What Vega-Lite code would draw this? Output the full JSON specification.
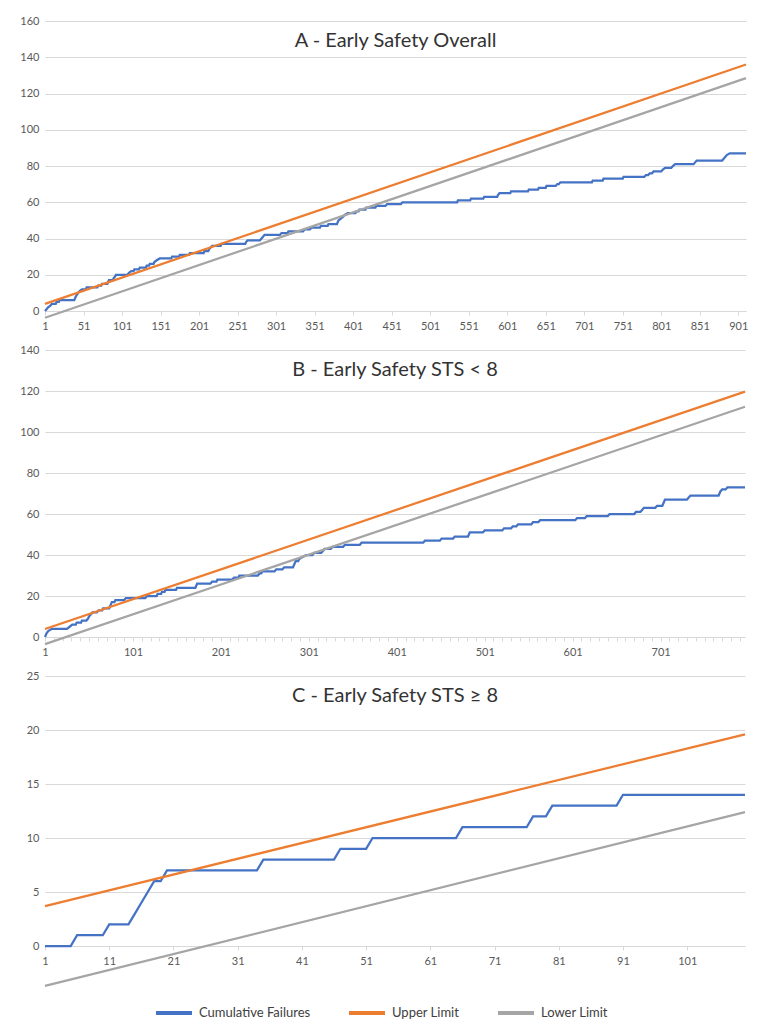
{
  "$schema": "https://vega.github.io/schema/vega-lite/v6.json",
  "background": "white",
  "padding": {"left": 19, "top": 15, "right": 10, "bottom": 5},
  "bounds": "flush",
  "spacing": 39,
  "config": {
    "view": {"stroke": null},
    "font": "Lato",
    "axis": {"labelFont": "Lato", "labelFontSize": 11, "labelColor": "#595959", "gridColor": "#D9D9D9", "domainColor": "#D9D9D9", "tickColor": "#D9D9D9", "title": null},
    "title": {"font": "Lato", "fontSize": 20, "fontWeight": "normal", "color": "#333333", "anchor": "middle", "frame": "group", "offset": -36},
    "legend": {"labelFont": "Lato", "labelFontSize": 13, "labelColor": "#404040", "symbolType": "stroke", "symbolStrokeWidth": 4, "symbolSize": 1296, "labelOffset": 5, "columnPadding": 30, "title": null}
  },
  "datasets": {
    "A": [
      {"series": "Cumulative Failures", "n": 1, "value": 0}, {"series": "Cumulative Failures", "n": 3, "value": 1}, {"series": "Cumulative Failures", "n": 5, "value": 2}, {"series": "Cumulative Failures", "n": 8, "value": 3}, {"series": "Cumulative Failures", "n": 10, "value": 4}, {"series": "Cumulative Failures", "n": 15, "value": 4}, {"series": "Cumulative Failures", "n": 16, "value": 5}, {"series": "Cumulative Failures", "n": 19, "value": 5}, {"series": "Cumulative Failures", "n": 20, "value": 6}, {"series": "Cumulative Failures", "n": 39, "value": 6}, {"series": "Cumulative Failures", "n": 41, "value": 8}, {"series": "Cumulative Failures", "n": 44, "value": 10}, {"series": "Cumulative Failures", "n": 46, "value": 11}, {"series": "Cumulative Failures", "n": 49, "value": 12}, {"series": "Cumulative Failures", "n": 54, "value": 12}, {"series": "Cumulative Failures", "n": 55, "value": 13}, {"series": "Cumulative Failures", "n": 69, "value": 13}, {"series": "Cumulative Failures", "n": 70, "value": 14}, {"series": "Cumulative Failures", "n": 74, "value": 14}, {"series": "Cumulative Failures", "n": 75, "value": 15}, {"series": "Cumulative Failures", "n": 82, "value": 15}, {"series": "Cumulative Failures", "n": 83, "value": 16}, {"series": "Cumulative Failures", "n": 84, "value": 17}, {"series": "Cumulative Failures", "n": 89, "value": 17}, {"series": "Cumulative Failures", "n": 90, "value": 18}, {"series": "Cumulative Failures", "n": 92, "value": 19}, {"series": "Cumulative Failures", "n": 93, "value": 20}, {"series": "Cumulative Failures", "n": 108, "value": 20}, {"series": "Cumulative Failures", "n": 110, "value": 21}, {"series": "Cumulative Failures", "n": 113, "value": 22}, {"series": "Cumulative Failures", "n": 116, "value": 22}, {"series": "Cumulative Failures", "n": 117, "value": 23}, {"series": "Cumulative Failures", "n": 123, "value": 23}, {"series": "Cumulative Failures", "n": 124, "value": 24}, {"series": "Cumulative Failures", "n": 132, "value": 24}, {"series": "Cumulative Failures", "n": 133, "value": 25}, {"series": "Cumulative Failures", "n": 136, "value": 25}, {"series": "Cumulative Failures", "n": 137, "value": 26}, {"series": "Cumulative Failures", "n": 142, "value": 26}, {"series": "Cumulative Failures", "n": 143, "value": 27}, {"series": "Cumulative Failures", "n": 146, "value": 28}, {"series": "Cumulative Failures", "n": 150, "value": 29}, {"series": "Cumulative Failures", "n": 165, "value": 29}, {"series": "Cumulative Failures", "n": 166, "value": 30}, {"series": "Cumulative Failures", "n": 175, "value": 30}, {"series": "Cumulative Failures", "n": 176, "value": 31}, {"series": "Cumulative Failures", "n": 188, "value": 31}, {"series": "Cumulative Failures", "n": 189, "value": 32}, {"series": "Cumulative Failures", "n": 207, "value": 32}, {"series": "Cumulative Failures", "n": 208, "value": 33}, {"series": "Cumulative Failures", "n": 213, "value": 33}, {"series": "Cumulative Failures", "n": 214, "value": 34}, {"series": "Cumulative Failures", "n": 216, "value": 35}, {"series": "Cumulative Failures", "n": 218, "value": 36}, {"series": "Cumulative Failures", "n": 229, "value": 36}, {"series": "Cumulative Failures", "n": 230, "value": 37}, {"series": "Cumulative Failures", "n": 261, "value": 37}, {"series": "Cumulative Failures", "n": 262, "value": 38}, {"series": "Cumulative Failures", "n": 264, "value": 39}, {"series": "Cumulative Failures", "n": 280, "value": 39}, {"series": "Cumulative Failures", "n": 282, "value": 40}, {"series": "Cumulative Failures", "n": 284, "value": 41}, {"series": "Cumulative Failures", "n": 286, "value": 42}, {"series": "Cumulative Failures", "n": 306, "value": 42}, {"series": "Cumulative Failures", "n": 308, "value": 43}, {"series": "Cumulative Failures", "n": 316, "value": 43}, {"series": "Cumulative Failures", "n": 317, "value": 44}, {"series": "Cumulative Failures", "n": 336, "value": 44}, {"series": "Cumulative Failures", "n": 338, "value": 45}, {"series": "Cumulative Failures", "n": 345, "value": 45}, {"series": "Cumulative Failures", "n": 347, "value": 46}, {"series": "Cumulative Failures", "n": 358, "value": 46}, {"series": "Cumulative Failures", "n": 359, "value": 47}, {"series": "Cumulative Failures", "n": 368, "value": 47}, {"series": "Cumulative Failures", "n": 369, "value": 48}, {"series": "Cumulative Failures", "n": 380, "value": 48}, {"series": "Cumulative Failures", "n": 382, "value": 50}, {"series": "Cumulative Failures", "n": 385, "value": 51}, {"series": "Cumulative Failures", "n": 388, "value": 52}, {"series": "Cumulative Failures", "n": 390, "value": 53}, {"series": "Cumulative Failures", "n": 394, "value": 54}, {"series": "Cumulative Failures", "n": 404, "value": 54}, {"series": "Cumulative Failures", "n": 405, "value": 55}, {"series": "Cumulative Failures", "n": 408, "value": 55}, {"series": "Cumulative Failures", "n": 409, "value": 56}, {"series": "Cumulative Failures", "n": 417, "value": 56}, {"series": "Cumulative Failures", "n": 418, "value": 57}, {"series": "Cumulative Failures", "n": 430, "value": 57}, {"series": "Cumulative Failures", "n": 431, "value": 58}, {"series": "Cumulative Failures", "n": 443, "value": 58}, {"series": "Cumulative Failures", "n": 445, "value": 59}, {"series": "Cumulative Failures", "n": 463, "value": 59}, {"series": "Cumulative Failures", "n": 465, "value": 60}, {"series": "Cumulative Failures", "n": 536, "value": 60}, {"series": "Cumulative Failures", "n": 537, "value": 61}, {"series": "Cumulative Failures", "n": 553, "value": 61}, {"series": "Cumulative Failures", "n": 554, "value": 62}, {"series": "Cumulative Failures", "n": 570, "value": 62}, {"series": "Cumulative Failures", "n": 571, "value": 63}, {"series": "Cumulative Failures", "n": 588, "value": 63}, {"series": "Cumulative Failures", "n": 589, "value": 64}, {"series": "Cumulative Failures", "n": 591, "value": 65}, {"series": "Cumulative Failures", "n": 605, "value": 65}, {"series": "Cumulative Failures", "n": 606, "value": 66}, {"series": "Cumulative Failures", "n": 628, "value": 66}, {"series": "Cumulative Failures", "n": 629, "value": 67}, {"series": "Cumulative Failures", "n": 641, "value": 67}, {"series": "Cumulative Failures", "n": 642, "value": 68}, {"series": "Cumulative Failures", "n": 651, "value": 68}, {"series": "Cumulative Failures", "n": 652, "value": 69}, {"series": "Cumulative Failures", "n": 664, "value": 69}, {"series": "Cumulative Failures", "n": 666, "value": 70}, {"series": "Cumulative Failures", "n": 668, "value": 70}, {"series": "Cumulative Failures", "n": 670, "value": 71}, {"series": "Cumulative Failures", "n": 711, "value": 71}, {"series": "Cumulative Failures", "n": 712, "value": 72}, {"series": "Cumulative Failures", "n": 725, "value": 72}, {"series": "Cumulative Failures", "n": 726, "value": 73}, {"series": "Cumulative Failures", "n": 751, "value": 73}, {"series": "Cumulative Failures", "n": 752, "value": 74}, {"series": "Cumulative Failures", "n": 779, "value": 74}, {"series": "Cumulative Failures", "n": 781, "value": 75}, {"series": "Cumulative Failures", "n": 784, "value": 75}, {"series": "Cumulative Failures", "n": 786, "value": 76}, {"series": "Cumulative Failures", "n": 789, "value": 76}, {"series": "Cumulative Failures", "n": 791, "value": 77}, {"series": "Cumulative Failures", "n": 801, "value": 77}, {"series": "Cumulative Failures", "n": 803, "value": 78}, {"series": "Cumulative Failures", "n": 806, "value": 79}, {"series": "Cumulative Failures", "n": 814, "value": 79}, {"series": "Cumulative Failures", "n": 816, "value": 80}, {"series": "Cumulative Failures", "n": 819, "value": 81}, {"series": "Cumulative Failures", "n": 843, "value": 81}, {"series": "Cumulative Failures", "n": 845, "value": 82}, {"series": "Cumulative Failures", "n": 847, "value": 83}, {"series": "Cumulative Failures", "n": 880, "value": 83}, {"series": "Cumulative Failures", "n": 882, "value": 84}, {"series": "Cumulative Failures", "n": 884, "value": 85}, {"series": "Cumulative Failures", "n": 886, "value": 86}, {"series": "Cumulative Failures", "n": 890, "value": 87}, {"series": "Cumulative Failures", "n": 911, "value": 87},
      {"series": "Upper Limit", "n": 1, "value": 3.9}, {"series": "Upper Limit", "n": 911, "value": 136},
      {"series": "Lower Limit", "n": 1, "value": -3.7}, {"series": "Lower Limit", "n": 911, "value": 128.5}
    ],
    "B": [
      {"series": "Cumulative Failures", "n": 1, "value": 0}, {"series": "Cumulative Failures", "n": 3, "value": 2}, {"series": "Cumulative Failures", "n": 5, "value": 3}, {"series": "Cumulative Failures", "n": 9, "value": 4}, {"series": "Cumulative Failures", "n": 26, "value": 4}, {"series": "Cumulative Failures", "n": 29, "value": 5}, {"series": "Cumulative Failures", "n": 32, "value": 6}, {"series": "Cumulative Failures", "n": 36, "value": 6}, {"series": "Cumulative Failures", "n": 37, "value": 7}, {"series": "Cumulative Failures", "n": 42, "value": 7}, {"series": "Cumulative Failures", "n": 43, "value": 8}, {"series": "Cumulative Failures", "n": 48, "value": 8}, {"series": "Cumulative Failures", "n": 50, "value": 9}, {"series": "Cumulative Failures", "n": 51, "value": 10}, {"series": "Cumulative Failures", "n": 53, "value": 11}, {"series": "Cumulative Failures", "n": 55, "value": 12}, {"series": "Cumulative Failures", "n": 60, "value": 12}, {"series": "Cumulative Failures", "n": 62, "value": 13}, {"series": "Cumulative Failures", "n": 66, "value": 13}, {"series": "Cumulative Failures", "n": 67, "value": 14}, {"series": "Cumulative Failures", "n": 74, "value": 14}, {"series": "Cumulative Failures", "n": 75, "value": 15}, {"series": "Cumulative Failures", "n": 76, "value": 16}, {"series": "Cumulative Failures", "n": 77, "value": 17}, {"series": "Cumulative Failures", "n": 80, "value": 17}, {"series": "Cumulative Failures", "n": 81, "value": 18}, {"series": "Cumulative Failures", "n": 91, "value": 18}, {"series": "Cumulative Failures", "n": 93, "value": 19}, {"series": "Cumulative Failures", "n": 115, "value": 19}, {"series": "Cumulative Failures", "n": 117, "value": 20}, {"series": "Cumulative Failures", "n": 128, "value": 20}, {"series": "Cumulative Failures", "n": 129, "value": 21}, {"series": "Cumulative Failures", "n": 133, "value": 21}, {"series": "Cumulative Failures", "n": 134, "value": 22}, {"series": "Cumulative Failures", "n": 137, "value": 22}, {"series": "Cumulative Failures", "n": 138, "value": 23}, {"series": "Cumulative Failures", "n": 150, "value": 23}, {"series": "Cumulative Failures", "n": 151, "value": 24}, {"series": "Cumulative Failures", "n": 172, "value": 24}, {"series": "Cumulative Failures", "n": 173, "value": 25}, {"series": "Cumulative Failures", "n": 174, "value": 26}, {"series": "Cumulative Failures", "n": 189, "value": 26}, {"series": "Cumulative Failures", "n": 191, "value": 27}, {"series": "Cumulative Failures", "n": 196, "value": 27}, {"series": "Cumulative Failures", "n": 197, "value": 28}, {"series": "Cumulative Failures", "n": 214, "value": 28}, {"series": "Cumulative Failures", "n": 216, "value": 29}, {"series": "Cumulative Failures", "n": 221, "value": 29}, {"series": "Cumulative Failures", "n": 222, "value": 30}, {"series": "Cumulative Failures", "n": 243, "value": 30}, {"series": "Cumulative Failures", "n": 245, "value": 31}, {"series": "Cumulative Failures", "n": 247, "value": 31}, {"series": "Cumulative Failures", "n": 248, "value": 32}, {"series": "Cumulative Failures", "n": 262, "value": 32}, {"series": "Cumulative Failures", "n": 264, "value": 33}, {"series": "Cumulative Failures", "n": 271, "value": 33}, {"series": "Cumulative Failures", "n": 273, "value": 34}, {"series": "Cumulative Failures", "n": 283, "value": 34}, {"series": "Cumulative Failures", "n": 284, "value": 35}, {"series": "Cumulative Failures", "n": 285, "value": 36}, {"series": "Cumulative Failures", "n": 286, "value": 37}, {"series": "Cumulative Failures", "n": 289, "value": 37}, {"series": "Cumulative Failures", "n": 290, "value": 38}, {"series": "Cumulative Failures", "n": 294, "value": 39}, {"series": "Cumulative Failures", "n": 298, "value": 40}, {"series": "Cumulative Failures", "n": 305, "value": 40}, {"series": "Cumulative Failures", "n": 307, "value": 41}, {"series": "Cumulative Failures", "n": 315, "value": 41}, {"series": "Cumulative Failures", "n": 317, "value": 42}, {"series": "Cumulative Failures", "n": 319, "value": 43}, {"series": "Cumulative Failures", "n": 326, "value": 43}, {"series": "Cumulative Failures", "n": 328, "value": 44}, {"series": "Cumulative Failures", "n": 340, "value": 44}, {"series": "Cumulative Failures", "n": 342, "value": 45}, {"series": "Cumulative Failures", "n": 359, "value": 45}, {"series": "Cumulative Failures", "n": 361, "value": 46}, {"series": "Cumulative Failures", "n": 431, "value": 46}, {"series": "Cumulative Failures", "n": 433, "value": 47}, {"series": "Cumulative Failures", "n": 450, "value": 47}, {"series": "Cumulative Failures", "n": 452, "value": 48}, {"series": "Cumulative Failures", "n": 465, "value": 48}, {"series": "Cumulative Failures", "n": 467, "value": 49}, {"series": "Cumulative Failures", "n": 482, "value": 49}, {"series": "Cumulative Failures", "n": 483, "value": 50}, {"series": "Cumulative Failures", "n": 484, "value": 51}, {"series": "Cumulative Failures", "n": 499, "value": 51}, {"series": "Cumulative Failures", "n": 501, "value": 52}, {"series": "Cumulative Failures", "n": 521, "value": 52}, {"series": "Cumulative Failures", "n": 523, "value": 53}, {"series": "Cumulative Failures", "n": 531, "value": 53}, {"series": "Cumulative Failures", "n": 533, "value": 54}, {"series": "Cumulative Failures", "n": 537, "value": 54}, {"series": "Cumulative Failures", "n": 539, "value": 55}, {"series": "Cumulative Failures", "n": 554, "value": 55}, {"series": "Cumulative Failures", "n": 556, "value": 56}, {"series": "Cumulative Failures", "n": 562, "value": 56}, {"series": "Cumulative Failures", "n": 564, "value": 57}, {"series": "Cumulative Failures", "n": 604, "value": 57}, {"series": "Cumulative Failures", "n": 606, "value": 58}, {"series": "Cumulative Failures", "n": 615, "value": 58}, {"series": "Cumulative Failures", "n": 617, "value": 59}, {"series": "Cumulative Failures", "n": 641, "value": 59}, {"series": "Cumulative Failures", "n": 643, "value": 60}, {"series": "Cumulative Failures", "n": 671, "value": 60}, {"series": "Cumulative Failures", "n": 673, "value": 61}, {"series": "Cumulative Failures", "n": 678, "value": 61}, {"series": "Cumulative Failures", "n": 680, "value": 62}, {"series": "Cumulative Failures", "n": 682, "value": 63}, {"series": "Cumulative Failures", "n": 695, "value": 63}, {"series": "Cumulative Failures", "n": 697, "value": 64}, {"series": "Cumulative Failures", "n": 703, "value": 64}, {"series": "Cumulative Failures", "n": 704, "value": 65}, {"series": "Cumulative Failures", "n": 705, "value": 66}, {"series": "Cumulative Failures", "n": 706, "value": 67}, {"series": "Cumulative Failures", "n": 731, "value": 67}, {"series": "Cumulative Failures", "n": 733, "value": 68}, {"series": "Cumulative Failures", "n": 735, "value": 69}, {"series": "Cumulative Failures", "n": 767, "value": 69}, {"series": "Cumulative Failures", "n": 769, "value": 71}, {"series": "Cumulative Failures", "n": 771, "value": 72}, {"series": "Cumulative Failures", "n": 775, "value": 72}, {"series": "Cumulative Failures", "n": 777, "value": 73}, {"series": "Cumulative Failures", "n": 797, "value": 73},
      {"series": "Upper Limit", "n": 1, "value": 3.9}, {"series": "Upper Limit", "n": 797, "value": 119.7},
      {"series": "Lower Limit", "n": 1, "value": -3.5}, {"series": "Lower Limit", "n": 797, "value": 112.3}
    ],
    "C": [
      {"series": "Cumulative Failures", "n": 1, "value": 0}, {"series": "Cumulative Failures", "n": 5, "value": 0}, {"series": "Cumulative Failures", "n": 6, "value": 1}, {"series": "Cumulative Failures", "n": 10, "value": 1}, {"series": "Cumulative Failures", "n": 11, "value": 2}, {"series": "Cumulative Failures", "n": 14, "value": 2}, {"series": "Cumulative Failures", "n": 15, "value": 3}, {"series": "Cumulative Failures", "n": 16, "value": 4}, {"series": "Cumulative Failures", "n": 17, "value": 5}, {"series": "Cumulative Failures", "n": 18, "value": 6}, {"series": "Cumulative Failures", "n": 19, "value": 6}, {"series": "Cumulative Failures", "n": 20, "value": 7}, {"series": "Cumulative Failures", "n": 34, "value": 7}, {"series": "Cumulative Failures", "n": 35, "value": 8}, {"series": "Cumulative Failures", "n": 46, "value": 8}, {"series": "Cumulative Failures", "n": 47, "value": 9}, {"series": "Cumulative Failures", "n": 51, "value": 9}, {"series": "Cumulative Failures", "n": 52, "value": 10}, {"series": "Cumulative Failures", "n": 65, "value": 10}, {"series": "Cumulative Failures", "n": 66, "value": 11}, {"series": "Cumulative Failures", "n": 76, "value": 11}, {"series": "Cumulative Failures", "n": 77, "value": 12}, {"series": "Cumulative Failures", "n": 79, "value": 12}, {"series": "Cumulative Failures", "n": 80, "value": 13}, {"series": "Cumulative Failures", "n": 90, "value": 13}, {"series": "Cumulative Failures", "n": 91, "value": 14}, {"series": "Cumulative Failures", "n": 110, "value": 14},
      {"series": "Upper Limit", "n": 1, "value": 3.7}, {"series": "Upper Limit", "n": 110, "value": 19.6},
      {"series": "Lower Limit", "n": 1, "value": -3.7}, {"series": "Lower Limit", "n": 110, "value": 12.4}
    ]
  },
  "vconcat": [
    {
      "width": 701,
      "height": 290,
      "title": {"text": "A - Early Safety Overall"},
      "data": {"name": "A"},
      "mark": {"type": "line", "strokeWidth": 2.25},
      "encoding": {
        "x": {"field": "n", "type": "quantitative", "scale": {"domain": [1, 911], "nice": false, "zero": false},
          "axis": {"values": [1, 51, 101, 151, 201, 251, 301, 351, 401, 451, 501, 551, 601, 651, 701, 751, 801, 851, 901], "grid": false, "tickSize": 4, "labelPadding": 5, "labelFlush": false, "labelOverlap": false, "labelBound": false, "format": "d"}},
        "y": {"field": "value", "type": "quantitative", "scale": {"domain": [0, 160], "nice": false, "zero": false},
          "axis": {"values": [0, 20, 40, 60, 80, 100, 120, 140, 160], "domain": false, "ticks": false, "labelPadding": 6}},
        "color": {"field": "series", "type": "nominal",
          "scale": {"domain": ["Cumulative Failures", "Upper Limit", "Lower Limit"], "range": ["#4472C4", "#ED7D31", "#A5A5A5"]},
          "legend": {"orient": "none", "direction": "horizontal", "legendX": 109, "legendY": 972}}
      }
    },
    {
      "width": 700,
      "height": 287,
      "title": {"text": "B - Early Safety STS < 8"},
      "data": {"name": "B"},
      "mark": {"type": "line", "strokeWidth": 2.25},
      "encoding": {
        "x": {"field": "n", "type": "quantitative", "scale": {"domain": [1, 797], "nice": false, "zero": false},
          "axis": {"values": [1, 11, 21, 31, 41, 51, 61, 71, 81, 91, 101, 111, 121, 131, 141, 151, 161, 171, 181, 191, 201, 211, 221, 231, 241, 251, 261, 271, 281, 291, 301, 311, 321, 331, 341, 351, 361, 371, 381, 391, 401, 411, 421, 431, 441, 451, 461, 471, 481, 491, 501, 511, 521, 531, 541, 551, 561, 571, 581, 591, 601, 611, 621, 631, 641, 651, 661, 671, 681, 691, 701, 711, 721, 731, 741, 751, 761, 771, 781, 791], "labelExpr": "(datum.value - 1) % 100 == 0 ? datum.label : ''", "grid": false, "tickSize": 4, "labelPadding": 5, "labelFlush": false, "labelOverlap": false, "labelBound": false, "format": "d"}},
        "y": {"field": "value", "type": "quantitative", "scale": {"domain": [0, 140], "nice": false, "zero": false},
          "axis": {"values": [0, 20, 40, 60, 80, 100, 120, 140], "domain": false, "ticks": false, "labelPadding": 6}},
        "color": {"field": "series", "type": "nominal",
          "scale": {"domain": ["Cumulative Failures", "Upper Limit", "Lower Limit"], "range": ["#4472C4", "#ED7D31", "#A5A5A5"]},
          "legend": {"orient": "none", "direction": "horizontal", "legendX": 109, "legendY": 972}}
      }
    },
    {
      "width": 700,
      "height": 270,
      "title": {"text": "C - Early Safety STS ≥ 8"},
      "data": {"name": "C"},
      "mark": {"type": "line", "strokeWidth": 2.25},
      "encoding": {
        "x": {"field": "n", "type": "quantitative", "scale": {"domain": [1, 110], "nice": false, "zero": false},
          "axis": {"values": [1, 11, 21, 31, 41, 51, 61, 71, 81, 91, 101], "grid": false, "tickSize": 4, "labelPadding": 5, "labelFlush": false, "labelOverlap": false, "labelBound": false, "format": "d"}},
        "y": {"field": "value", "type": "quantitative", "scale": {"domain": [0, 25], "nice": false, "zero": false},
          "axis": {"values": [0, 5, 10, 15, 20, 25], "domain": false, "ticks": false, "labelPadding": 6}},
        "color": {"field": "series", "type": "nominal",
          "scale": {"domain": ["Cumulative Failures", "Upper Limit", "Lower Limit"], "range": ["#4472C4", "#ED7D31", "#A5A5A5"]},
          "legend": {"orient": "none", "direction": "horizontal", "legendX": 109, "legendY": 972}}
      }
    }
  ]
}
